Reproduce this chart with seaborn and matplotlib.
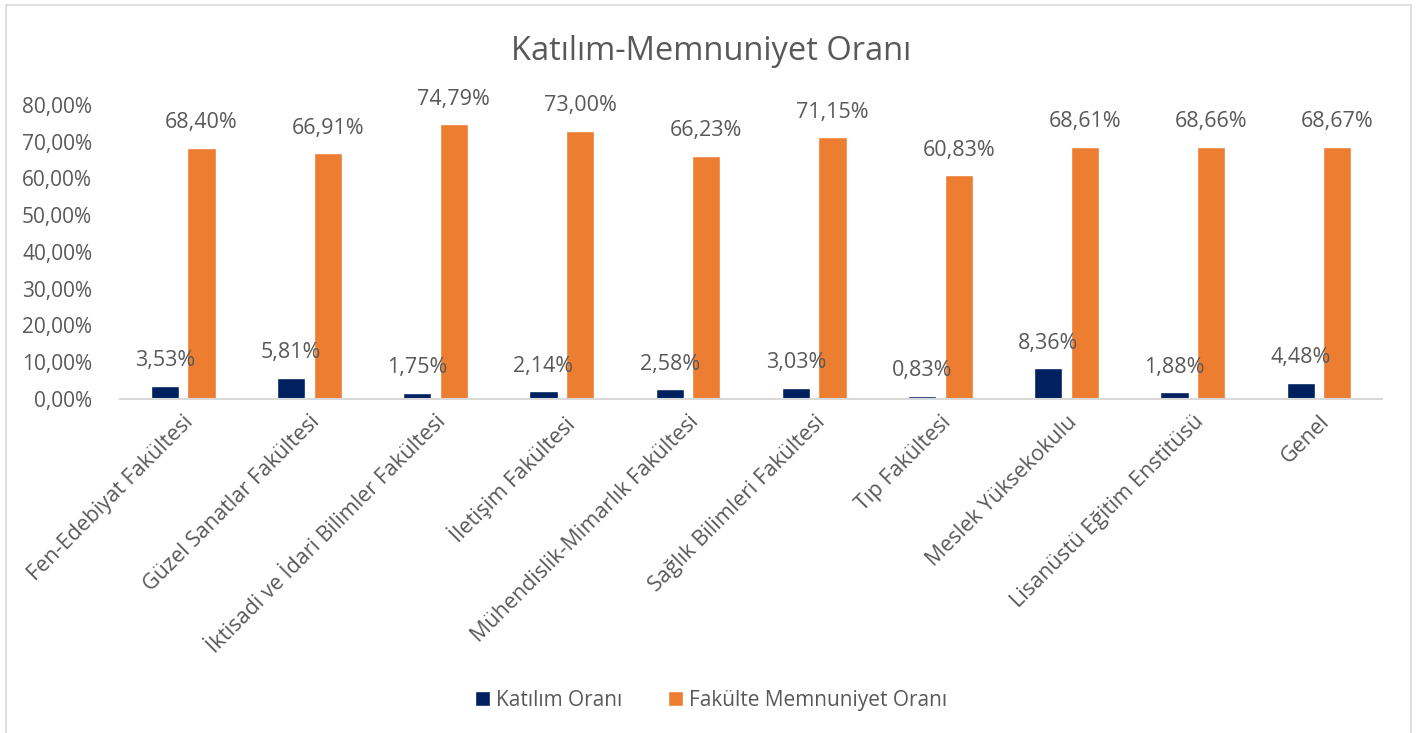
import pandas as pd
import matplotlib.pyplot as plt
import seaborn as sns
from matplotlib.patches import Rectangle, Patch
from matplotlib.ticker import FuncFormatter

# === DATA ===
fakulteler = [
    "Fen-Edebiyat Fakültesi",
    "Güzel Sanatlar Fakültesi",
    "İktisadi ve İdari Bilimler Fakültesi",
    "İletişim Fakültesi",
    "Mühendislik-Mimarlık Fakültesi",
    "Sağlık Bilimleri Fakültesi",
    "Tıp Fakültesi",
    "Meslek Yüksekokulu",
    "Lisanüstü Eğitim Enstitüsü",
    "Genel",
]
katilim = [0.0353, 0.0581, 0.0175, 0.0214, 0.0258, 0.0303, 0.0083, 0.0836, 0.0188, 0.0448]
memnuniyet = [0.6840, 0.6691, 0.7479, 0.7300, 0.6623, 0.7115, 0.6083, 0.6861, 0.6866, 0.6867]
seriler = ["Katılım Oranı", "Fakülte Memnuniyet Oranı"]
renkler = ["#002060", "#ED7D31"]

TEXT = "#595959"

df = pd.DataFrame({
    "fakulte": fakulteler * 2,
    "seri": [seriler[0]] * len(fakulteler) + [seriler[1]] * len(fakulteler),
    "oran": katilim + memnuniyet,
})

sns.set_style("white")
plt.rcParams["font.family"] = ["Open Sans", "DejaVu Sans"]

fig = plt.figure(figsize=(14.22, 7.33), dpi=100)
ax = fig.add_axes([0.0844, 0.4557, 0.8876, 0.4011])

sns.barplot(data=df, x="fakulte", y="oran", hue="seri", palette=renkler,
            width=0.58, gap=0.23, ax=ax, legend=False, saturation=1)

ax.set_ylim(0, 0.8)
ax.set_xlim(-0.5, len(fakulteler) - 0.5)
ax.set_yticks([i / 10 for i in range(9)])
ax.yaxis.set_major_formatter(FuncFormatter(lambda v, p: f"{v*100:.2f}%".replace(".", ",")))
ax.tick_params(axis="y", labelsize=15, labelcolor=TEXT, length=0, pad=20)
ax.tick_params(axis="x", labelsize=15.5, labelcolor=TEXT, length=0, pad=9)
ax.set_xlabel("")
ax.set_ylabel("")
for lbl in ax.get_xticklabels():
    lbl.set_rotation(45)
    lbl.set_ha("right")
    lbl.set_rotation_mode("anchor")

for s in ["top", "right", "left"]:
    ax.spines[s].set_visible(False)
ax.spines["bottom"].set_color("#D9D9D9")
ax.spines["bottom"].set_linewidth(1.5)

# veri etiketleri
for bar in ax.patches:
    h = bar.get_height()
    ax.annotate(f"{h*100:.2f}%".replace(".", ","),
                (bar.get_x() + bar.get_width() / 2, h),
                xytext=(0, 18), textcoords="offset points",
                ha="center", va="center", fontsize=15.5, color=TEXT)

fig.text(0.5, 0.93, "Katılım-Memnuniyet Oranı", ha="center", va="center",
         fontsize=23.5, color=TEXT)

handles = [Patch(facecolor=c, label=s) for s, c in zip(seriler, renkler)]
fig.legend(handles=handles, loc="center", bbox_to_anchor=(0.5, 0.045), ncol=2,
           frameon=False, fontsize=15, labelcolor=TEXT, handlelength=0.7,
           handleheight=0.7, handletextpad=0.3, columnspacing=2.2)

fig.patches.append(Rectangle((0.004, -0.01), 0.988, 1.003, transform=fig.transFigure,
                             fill=False, edgecolor="#D9D9D9", linewidth=1.2))

plt.savefig("out.png", dpi=100)
